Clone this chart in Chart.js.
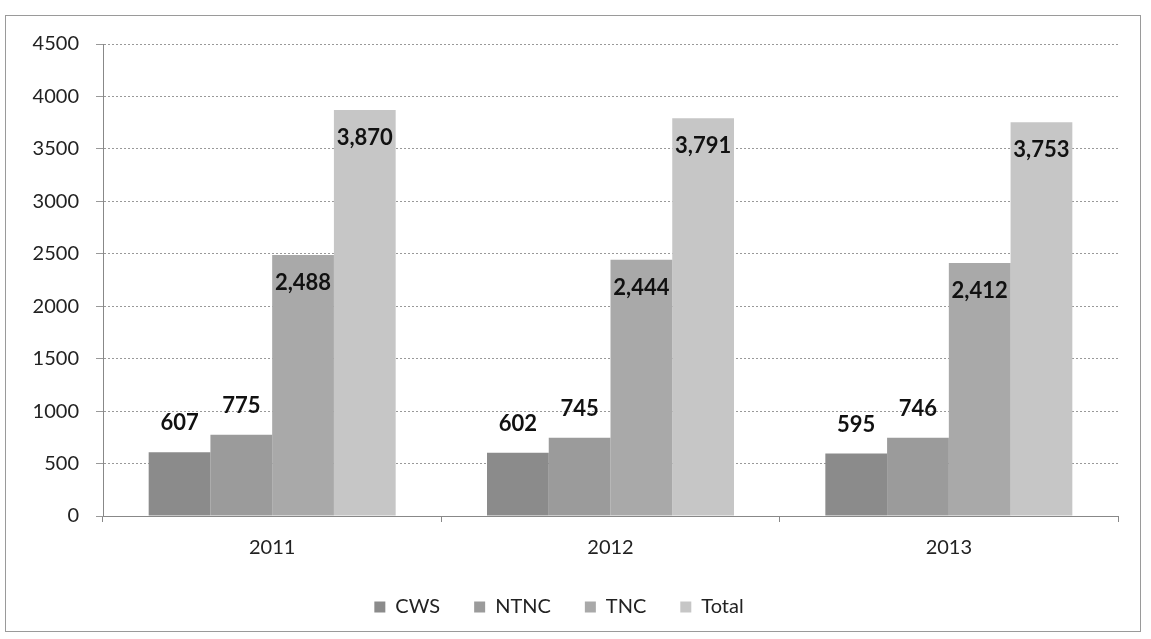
<!DOCTYPE html>
<html>
<head>
<meta charset="utf-8">
<script src="https://cdn.jsdelivr.net/npm/chart.js@4.4.0/dist/chart.umd.min.js"></script>
<style>
  html, body { margin: 0; padding: 0; background: #fff; }
  #marco { position: absolute; left: 0; top: 0; width: 1151px; height: 639px; }
</style>
</head>
<body>
<div id="marco"><canvas id="myChart" width="1151" height="639"></canvas></div>
<script>
/* datos del grafico */
const anios = ["2011", "2012", "2013"];
const cws = [607, 602, 595];
const ntnc = [775, 745, 746];
const tnc = [2488, 2444, 2412];
const total = [3870, 3791, 3753];
const nombresSeries = ["CWS", "NTNC", "TNC", "Total"];
const coloresSeries = ["#8b8b8b", "#9b9b9b", "#a9a9a9", "#c6c6c6"];
const ticksY = [0, 500, 1000, 1500, 2000, 2500, 3000, 3500, 4000, 4500];

const fuente = "Lato, 'Open Sans', sans-serif";

// marco exterior del grafico (borde gris fino)
const pluginMarco = {
  id: "marco",
  beforeDraw(chart) {
    const ctx = chart.ctx;
    ctx.save();
    ctx.strokeStyle = "#9a9a9a";
    ctx.lineWidth = 1;
    ctx.strokeRect(5.5, 15.5, 1135, 616);
    ctx.restore();
  }
};

// etiquetas de valores: arriba de las barras chicas, dentro de las grandes
const pluginEtiquetas = {
  id: "etiquetas",
  afterDatasetsDraw(chart) {
    const ctx = chart.ctx;
    ctx.save();
    ctx.font = "bold 22px " + fuente;
    ctx.fillStyle = "#111";
    ctx.textAlign = "center";
    ctx.textBaseline = "middle";
    chart.data.datasets.forEach((ds, i) => {
      const meta = chart.getDatasetMeta(i);
      meta.data.forEach((barra, j) => {
        const v = ds.data[j];
        const y = v > 1500 ? barra.y + 28 : barra.y - 29;
        ctx.fillText(v.toLocaleString("en-US"), barra.x, y);
      });
    });
    ctx.restore();
  }
};

const datasets = nombresSeries.map((nombre, i) => {
  return {
    label: nombre,
    data: [cws, ntnc, tnc, total][i],
    backgroundColor: coloresSeries[i],
    borderWidth: 0
  };
});

const config = {
  type: "bar",
  data: { labels: anios, datasets: datasets },
  options: {
    responsive: false,
    animation: false,
    layout: { padding: { left: 0, right: 33, top: 44, bottom: 12 } },
    datasets: { bar: { categoryPercentage: 0.73, barPercentage: 1 } },
    plugins: {
      legend: {
        position: "bottom",
        labels: {
          boxWidth: 11, boxHeight: 11, padding: 34,
          color: "#222",
          font: { family: fuente, size: 20 }
        }
      },
      tooltip: { enabled: false }
    },
    scales: {
      x: {
        afterFit(s) { s.height = s.height - 11; },
        grid: { display: true, drawOnChartArea: false, tickLength: 6, color: "#888", offset: true },
        border: { color: "#888" },
        ticks: { color: "#222", padding: 14, font: { family: fuente, size: 20 } }
      },
      y: {
        min: 0, max: 4500,
        afterFit(s) { s.width = 103; },
        afterBuildTicks(s) { s.ticks = ticksY.map(v => ({ value: v })); },
        grid: { color: "#999", tickLength: 7 },
        border: { color: "#888", dash: [2, 2] },
        ticks: {
          color: "#222", padding: 17, font: { family: fuente, size: 20 },
          callback: v => String(v)
        }
      }
    }
  },
  plugins: [pluginMarco, pluginEtiquetas]
};

new Chart(document.getElementById("myChart"), config);
</script>
</body>
</html>
